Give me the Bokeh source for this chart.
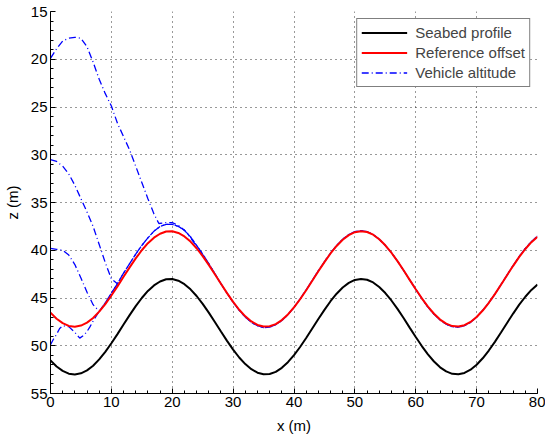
from bokeh.plotting import figure
from bokeh.models import Range1d, SingleIntervalTicker, Legend, LegendItem
from bokeh.embed import file_html
from bokeh.resources import INLINE

# ---- data ----
x_profile = list(range(0, 81))
seabed_z = [51.54, 52.17, 52.63, 52.92, 53.00, 52.89, 52.58, 52.09, 51.43, 50.64,
            49.74, 48.78, 47.78, 46.79, 45.85, 45.00, 44.26, 43.68, 43.27, 43.04,
            43.01, 43.19, 43.55, 44.09, 44.79, 45.61, 46.53, 47.51, 48.51, 49.49,
            50.41, 51.23, 51.92, 52.46, 52.82, 52.99, 52.96, 52.73, 52.31, 51.72,
            50.98, 50.13, 49.19, 48.20, 47.20, 46.24, 45.34, 44.55, 43.90, 43.42,
            43.11, 43.00, 43.09, 43.37, 43.85, 44.48, 45.26, 46.14, 47.10, 48.10,
            49.09, 50.03, 50.90, 51.65, 52.26, 52.69, 52.94, 52.99, 52.85, 52.51,
            51.99, 51.31, 50.50, 49.59, 48.61, 47.61, 46.63, 45.70, 44.87, 44.15,
            43.60]
reference_z = [46.54, 47.17, 47.63, 47.92, 48.00, 47.89, 47.58, 47.09, 46.43, 45.64,
               44.74, 43.78, 42.78, 41.79, 40.85, 40.00, 39.26, 38.68, 38.27, 38.04,
               38.01, 38.19, 38.55, 39.09, 39.79, 40.61, 41.53, 42.51, 43.51, 44.49,
               45.41, 46.23, 46.92, 47.46, 47.82, 47.99, 47.96, 47.73, 47.31, 46.72,
               45.98, 45.13, 44.19, 43.20, 42.20, 41.24, 40.34, 39.55, 38.90, 38.42,
               38.11, 38.00, 38.09, 38.37, 38.85, 39.48, 40.26, 41.14, 42.10, 43.10,
               44.09, 45.03, 45.90, 46.65, 47.26, 47.69, 47.94, 47.99, 47.85, 47.51,
               46.99, 46.31, 45.50, 44.59, 43.61, 42.61, 41.63, 40.70, 39.87, 39.15,
               38.60]

# vehicle runs from four starting altitudes (transient parts)
run1_x = [0, 1, 2, 3, 4, 5, 6, 7, 8, 9, 10, 11, 12, 13, 14, 15, 16, 17, 17.8, 19, 20, 21, 22, 23, 24, 25, 26]
run1_z = [19.9, 18.9, 18.1, 17.8, 17.7, 17.8, 18.7, 20.3, 22.1, 23.6, 24.9, 26.7, 28.1, 29.5, 31.2,
          32.9, 34.6, 36.2, 37.2, 37.1, 37.1, 37.4, 37.9, 38.7, 39.6, 40.5, 41.5]
run2_x = [0, 1, 2, 3, 4, 5, 6, 7, 8, 9, 10, 11]
run2_z = [30.5, 30.7, 31.2, 32.0, 33.2, 34.6, 36.0, 37.5, 39.4, 41.3, 43.0, 43.5]
run3_x = [0, 1, 2, 3, 4, 5, 6, 7, 8]
run3_z = [39.8, 39.9, 40.0, 40.5, 41.5, 42.9, 44.4, 45.7, 46.4]
run4_x = [0, 0.5, 1, 1.5, 2, 3, 4, 4.8, 5.5, 6, 6.5, 7, 8]
run4_z = [49.9, 49.3, 48.8, 48.2, 47.9, 48.0, 48.6, 49.2, 48.9, 48.5, 48.0, 47.4, 46.4]
# common tracking part once the runs have converged
track_x = list(range(8, 81))
track_z = [46.4, 45.5, 44.5, 43.5, 42.4, 41.4, 40.4, 39.5, 38.7, 38.0, 37.5, 37.3, 37.3, 37.5,
           37.9, 38.6, 39.5, 40.4, 41.4, 42.45, 43.5, 44.5, 45.45, 46.3, 47.0, 47.55, 47.9,
           48.1, 48.05, 47.8, 47.35, 46.75, 45.98, 45.10, 44.15, 43.15, 42.15, 41.2, 40.3,
           39.5, 38.85, 38.35, 38.05, 37.95, 38.05, 38.35, 38.85, 39.5, 40.25, 41.15, 42.1,
           43.1, 44.1, 45.05, 45.95, 46.7, 47.3, 47.75, 48.0, 48.05, 47.9, 47.55, 47.0,
           46.3, 45.5, 44.6, 43.6, 42.6, 41.6, 40.65, 39.8, 39.1, 38.5]

legend_labels = ["Seabed profile", "Reference offset", "Vehicle altitude"]
x_label = "x (m)"
y_label = "z (m)"

FONT = "Liberation Sans"

p = figure(width=545, height=436, x_range=Range1d(0, 80), y_range=Range1d(55, 15),
           output_backend="svg", toolbar_location=None,
           min_border_left=48, min_border_right=8, min_border_top=11, min_border_bottom=41)
p.styles = {"margin-bottom": "-20px"}
p.outline_line_color = None
p.background_fill_color = "white"
p.border_fill_color = "white"

p.xaxis.ticker = SingleIntervalTicker(interval=10, num_minor_ticks=5)
p.yaxis.ticker = SingleIntervalTicker(interval=5, num_minor_ticks=5)
for ax in (p.xaxis, p.yaxis):
    ax.axis_line_color = "black"
    ax.axis_line_width = 1
    ax.major_tick_in = 5
    ax.major_tick_out = 0
    ax.minor_tick_in = 3
    ax.minor_tick_out = 0
    ax.major_tick_line_color = "black"
    ax.minor_tick_line_color = "black"
    ax.major_label_text_font = FONT
    ax.major_label_text_font_size = "15px"
    ax.major_label_text_color = "black"
    ax.axis_label_text_font = FONT
    ax.axis_label_text_font_size = "15px"
    ax.axis_label_text_font_style = "normal"
    ax.axis_label_text_color = "black"
    ax.major_label_standoff = 3
p.xaxis.axis_label = x_label
p.yaxis.axis_label = y_label
p.xaxis.axis_label_standoff = 7
p.yaxis.axis_label_standoff = 7

for g in (p.xgrid, p.ygrid):
    g.grid_line_color = "black"
    g.grid_line_alpha = 0.8
    g.grid_line_dash = "1 4"
    g.grid_line_width = 1

blue = "#0000ff"
dash = "7 3 1 3"
b1 = p.line(run1_x, run1_z, line_color=blue, line_width=1.3, line_dash=dash)
p.line(run2_x, run2_z, line_color=blue, line_width=1.3, line_dash=dash)
p.line(run3_x, run3_z, line_color=blue, line_width=1.3, line_dash=dash)
p.line(run4_x, run4_z, line_color=blue, line_width=1.3, line_dash=dash)
p.line(track_x, track_z, line_color=blue, line_width=1.3, line_dash=dash)
p.line(track_x, track_z, line_color=blue, line_width=1.3, line_dash=dash, line_dash_offset=6)
s = p.line(x_profile, seabed_z, line_color="black", line_width=2)
r = p.line(x_profile, reference_z, line_color="#ff0000", line_width=2)

legend = Legend(items=[LegendItem(label=legend_labels[0], renderers=[s]),
                       LegendItem(label=legend_labels[1], renderers=[r]),
                       LegendItem(label=legend_labels[2], renderers=[b1])],
                location="top_right")
legend.border_line_color = "black"
legend.border_line_width = 1
legend.background_fill_alpha = 1
legend.label_text_font = FONT
legend.label_text_font_size = "15px"
legend.glyph_width = 46
legend.glyph_height = 19
legend.label_height = 19
legend.label_standoff = 8
legend.spacing = 1
legend.padding = 4
legend.margin = 7
legend.label_text_baseline = "middle"
p.add_layout(legend)

open("out.html", "w").write(file_html(p, INLINE))
